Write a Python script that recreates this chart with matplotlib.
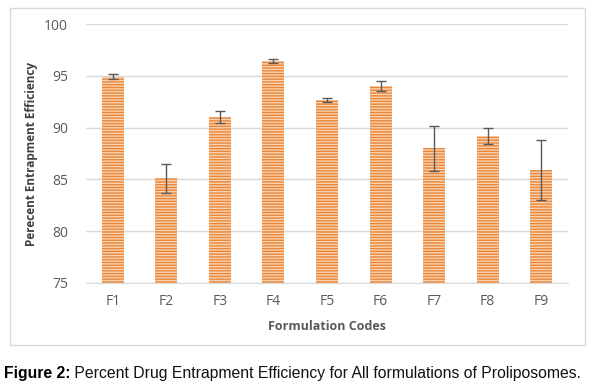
import matplotlib
matplotlib.use("Agg")
import matplotlib.pyplot as plt
from matplotlib.patches import Rectangle

categories = ["F1", "F2", "F3", "F4", "F5", "F6", "F7", "F8", "F9"]
values = [94.9, 85.1, 91.0, 96.4, 92.7, 94.0, 88.0, 89.2, 85.9]
errors = [0.25, 1.4, 0.6, 0.2, 0.2, 0.45, 2.2, 0.8, 2.9]
yticks = [75, 80, 85, 90, 95, 100]

plt.rcParams['hatch.linewidth'] = 1.0
fig = plt.figure(figsize=(6.06, 3.92), dpi=100)
W, H = 606, 392
ax = fig.add_axes([86 / W, 1 - 283 / H, (568 - 86) / W, (283 - 24) / H])

# outer chart border
fig.patches.append(Rectangle((10 / W, 1 - 345 / H), (585 - 10) / W, (345 - 8) / H,
                             transform=fig.transFigure, fill=False,
                             edgecolor='#d9d9d9', linewidth=1.0))

x = list(range(len(categories)))
ax.bar(x, [v - 75 for v in values], bottom=75, width=0.41,
       color='#fbd2b0', edgecolor='#e8873a', hatch='------', linewidth=0,
       zorder=2)
ax.errorbar(x, values, yerr=errors, fmt='none', ecolor='#595959',
            elinewidth=1.0, capsize=3.5, capthick=1.0, zorder=3)

ax.set_xlim(-0.5, len(categories) - 0.5)
ax.set_ylim(75, 100)
ax.set_yticks(yticks)
ax.set_xticks(x)
ax.set_xticklabels(categories)
ax.grid(axis='y', color='#d9d9d9', linewidth=1.0, zorder=0)
ax.set_axisbelow(True)
for s in ['top', 'right', 'left']:
    ax.spines[s].set_visible(False)
ax.spines['bottom'].set_color('#d9d9d9')
ax.tick_params(length=0, colors='#595959', labelsize=10)
ax.tick_params(axis='y', pad=13)
ax.tick_params(axis='x', pad=8)
for lab in ax.get_xticklabels() + ax.get_yticklabels():
    lab.set_fontfamily('Open Sans')

ax.set_xlabel('Formulation Codes', fontsize=9, fontweight='bold',
              color='#595959', family='Open Sans', labelpad=8)
ax.set_ylabel('Perecent Entrapment Efficiency', fontsize=8.5, fontweight='bold',
              color='#404040', family='Open Sans', labelpad=4)

t1 = fig.text(4 / W, 1 - 378 / H, 'Figure 2:', fontsize=11.3, fontweight='bold',
              family='Liberation Sans', va='baseline', ha='left', color='black')
ax.annotate(' Percent Drug Entrapment Efficiency for All formulations of Proliposomes.',
            xy=(1, 0), xycoords=t1, va='bottom', ha='left',
            fontsize=11.3, family='Liberation Sans', color='#111111',
            annotation_clip=False)

fig.savefig('out.png', dpi=100)
